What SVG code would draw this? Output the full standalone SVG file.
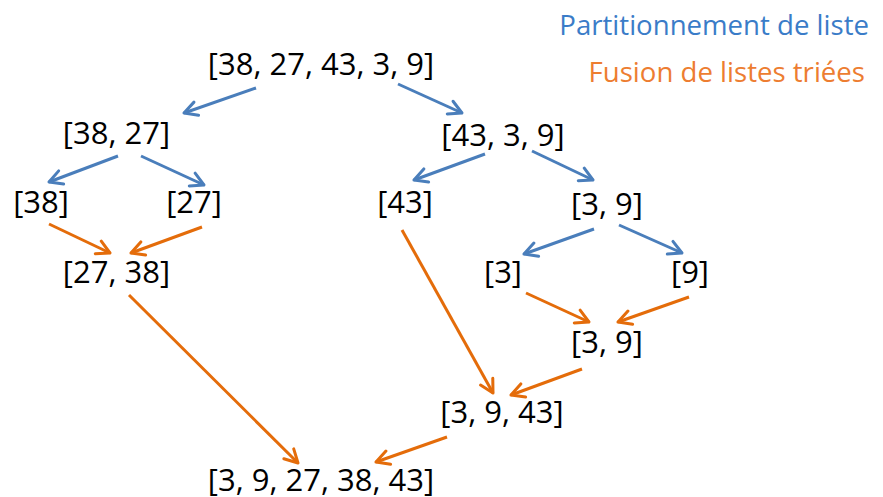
<svg xmlns="http://www.w3.org/2000/svg" width="883" height="497" viewBox="0 0 883 497">
<style>
.n{font-family:"Open Sans","Liberation Sans",sans-serif;font-size:31px;fill:#000;text-anchor:middle}
.lg{font-family:"Open Sans","Liberation Sans",sans-serif;font-size:27.6px}
.b{stroke:#4A7EBB;stroke-width:3;fill:none;marker-end:url(#ab)}
.o{stroke:#E46C0A;stroke-width:3;fill:none;marker-end:url(#ao)}
</style>
<defs>
<marker id="ab" viewBox="0 0 18 18" refX="15" refY="9" markerWidth="18" markerHeight="18" markerUnits="userSpaceOnUse" orient="auto">
<path d="M2,2 L15,9 L2,16" fill="none" stroke="#4A7EBB" stroke-width="3" stroke-linecap="round" stroke-linejoin="round"/>
</marker>
<marker id="ao" viewBox="0 0 18 18" refX="15" refY="9" markerWidth="18" markerHeight="18" markerUnits="userSpaceOnUse" orient="auto">
<path d="M2,2 L15,9 L2,16" fill="none" stroke="#E46C0A" stroke-width="3" stroke-linecap="round" stroke-linejoin="round"/>
</marker>
</defs>
<rect width="883" height="497" fill="#fff"/>
<g id="legend">
<text class="lg" x="869" y="35" text-anchor="end" fill="#3A7CC8">Partitionnement de liste</text>
<text class="lg" x="865" y="82" text-anchor="end" fill="#ED7D31">Fusion de listes triées</text>
</g>
<g id="connectors">
<line class="b" x1="256" y1="88" x2="184" y2="113"/>
<line class="b" x1="398" y1="84" x2="462" y2="113"/>
<line class="b" x1="118" y1="156" x2="49" y2="182"/>
<line class="b" x1="141" y1="156" x2="204" y2="185"/>
<line class="b" x1="485" y1="154" x2="414" y2="180"/>
<line class="b" x1="532" y1="151" x2="593" y2="180"/>
<line class="b" x1="594" y1="229" x2="524" y2="254"/>
<line class="b" x1="619" y1="225" x2="682" y2="253"/>
<line class="o" x1="49" y1="224" x2="110" y2="253"/>
<line class="o" x1="202" y1="227" x2="131" y2="253"/>
<line class="o" x1="402" y1="230" x2="493" y2="393"/>
<line class="o" x1="526" y1="293" x2="589" y2="322"/>
<line class="o" x1="689" y1="297" x2="618" y2="322"/>
<line class="o" x1="582" y1="369" x2="511" y2="395"/>
<line class="o" x1="129" y1="295" x2="298" y2="463"/>
<line class="o" x1="447" y1="437" x2="376" y2="462"/>
</g>
<g id="n1"><text class="n" x="321" y="75">[38, 27, 43, 3, 9]</text></g>
<g id="n2"><text class="n" x="116.5" y="144">[38, 27]</text></g>
<g id="n3"><text class="n" x="503" y="146">[43, 3, 9]</text></g>
<g id="n4"><text class="n" x="41" y="213">[38]</text></g>
<g id="n5"><text class="n" x="194" y="213">[27]</text></g>
<g id="n6"><text class="n" x="405" y="213">[43]</text></g>
<g id="n7"><text class="n" x="607" y="215">[3, 9]</text></g>
<g id="n8"><text class="n" x="116.5" y="283">[27, 38]</text></g>
<g id="n9"><text class="n" x="503" y="283">[3]</text></g>
<g id="n10"><text class="n" x="690" y="283">[9]</text></g>
<g id="n11"><text class="n" x="607" y="353">[3, 9]</text></g>
<g id="n12"><text class="n" x="502" y="423">[3, 9, 43]</text></g>
<g id="n13"><text class="n" x="321" y="491">[3, 9, 27, 38, 43]</text></g>
</svg>
